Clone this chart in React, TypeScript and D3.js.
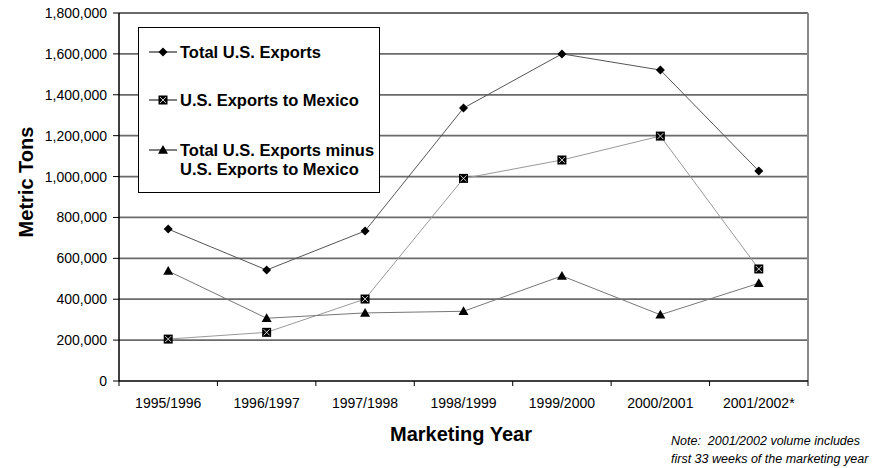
import React from "react";
import * as d3 from "d3";

const categories = ["1995/1996", "1996/1997", "1997/1998", "1998/1999", "1999/2000", "2000/2001", "2001/2002*"];
const totalExports = [743000, 543000, 734000, 1335000, 1600000, 1521000, 1027000];
const mexicoExports = [205000, 238000, 401000, 991000, 1081000, 1198000, 548000];
const minusMexico = [538000, 307000, 333000, 341000, 514000, 324000, 478000];
const yTicks = [0, 200000, 400000, 600000, 800000, 1000000, 1200000, 1400000, 1600000, 1800000];

const W = 875, H = 468;
const L = 119, R = 808, T = 13, B = 381;
const FONT = "'Liberation Sans', Arial, sans-serif";

function Diamond({ x, y }: { x: number; y: number }) {
  const s = 4.5;
  return <path d={`M${x},${y - s}L${x + s},${y}L${x},${y + s}L${x - s},${y}Z`} fill="#000" />;
}
function XSquare({ x, y }: { x: number; y: number }) {
  const s = 4.5;
  return (
    <g>
      <rect x={x - s} y={y - s} width={2 * s} height={2 * s} fill="#000" />
      <path d={`M${x - s + 1.5},${y - s + 1.5}L${x + s - 1.5},${y + s - 1.5}M${x + s - 1.5},${y - s + 1.5}L${x - s + 1.5},${y + s - 1.5}`} stroke="#fff" strokeWidth={0.8} />
    </g>
  );
}
function Triangle({ x, y }: { x: number; y: number }) {
  const s = 5;
  return <path d={`M${x},${y - s}L${x + s},${y + s * 0.75}L${x - s},${y + s * 0.75}Z`} fill="#000" />;
}

export default function App() {
  const x = d3.scaleBand<string>().domain(categories).range([L, R]).padding(0);
  const y = d3.scaleLinear().domain([0, 1800000]).range([B, T]);
  const cx = (c: string) => (x(c) as number) + x.bandwidth() / 2;
  const fmt = d3.format(",");
  const line = d3.line<number>().x((_, i) => cx(categories[i])).y((v) => y(v));

  const series = [
    { data: totalExports, color: "#555", M: Diamond },
    { data: mexicoExports, color: "#999", M: XSquare },
    { data: minusMexico, color: "#777", M: Triangle },
  ];

  const boundaries = categories.map((c) => x(c) as number).concat([R]);

  return (
    <svg width={W} height={H} style={{ position: "absolute", left: 0, top: 0, background: "#fff" }} fontFamily={FONT}>
      {yTicks.slice(1).map((t) => (
        <line key={t} x1={L} x2={R} y1={y(t)} y2={y(t)} stroke="#6a6a6a" strokeWidth={1.8} />
      ))}
      <line x1={R} x2={R} y1={T} y2={B} stroke="#8a8a8a" strokeWidth={2} />
      <line x1={L} x2={L} y1={T} y2={B + 0.5} stroke="#000" strokeWidth={1.5} />
      <line x1={L} x2={R} y1={B} y2={B} stroke="#000" strokeWidth={1.5} />
      {yTicks.map((t) => (
        <g key={t}>
          <line x1={L - 6} x2={L} y1={y(t)} y2={y(t)} stroke="#000" strokeWidth={1} />
          <text x={107} y={y(t) + 5} textAnchor="end" fontSize={14} fill="#000">{fmt(t)}</text>
        </g>
      ))}
      {boundaries.map((b, i) => (
        <line key={i} x1={b} x2={b} y1={B} y2={B + 5} stroke="#000" strokeWidth={1} />
      ))}
      {categories.map((c) => (
        <text key={c} x={cx(c)} y={408} textAnchor="middle" fontSize={14} fill="#000">{c}</text>
      ))}
      {series.map((s, i) => (
        <g key={i}>
          <path d={line(s.data) || ""} fill="none" stroke={s.color} strokeWidth={1} />
          {s.data.map((v, j) => (
            <s.M key={j} x={cx(categories[j])} y={y(v)} />
          ))}
        </g>
      ))}
      <rect x={138.5} y={27.5} width={241} height={165} fill="#fff" stroke="#000" strokeWidth={1} />
      <line x1={149} x2={177} y1={52} y2={52} stroke="#000" strokeWidth={1} />
      <Diamond x={163} y={52} />
      <text x={180} y={58} fontSize={16.5} fontWeight="bold">Total U.S. Exports</text>
      <line x1={149} x2={177} y1={100} y2={100} stroke="#000" strokeWidth={1} />
      <XSquare x={163} y={100} />
      <text x={180} y={106} fontSize={16.5} fontWeight="bold">U.S. Exports to Mexico</text>
      <line x1={149} x2={177} y1={150} y2={150} stroke="#000" strokeWidth={1} />
      <Triangle x={163} y={150} />
      <text x={180} y={156} fontSize={16.5} fontWeight="bold">Total U.S. Exports minus</text>
      <text x={180} y={175} fontSize={16.5} fontWeight="bold">U.S. Exports to Mexico</text>
      <text transform={`translate(33,182) rotate(-90)`} textAnchor="middle" fontSize={20} fontWeight="bold">Metric Tons</text>
      <text x={461} y={441} textAnchor="middle" fontSize={20} fontWeight="bold">Marketing Year</text>
      <text x={671} y={445} fontSize={12.5} fontStyle="italic" style={{ whiteSpace: "pre" }}>Note:  2001/2002 volume includes</text>
      <text x={671} y={463} fontSize={12.5} fontStyle="italic">first 33 weeks of the marketing year</text>
    </svg>
  );
}
